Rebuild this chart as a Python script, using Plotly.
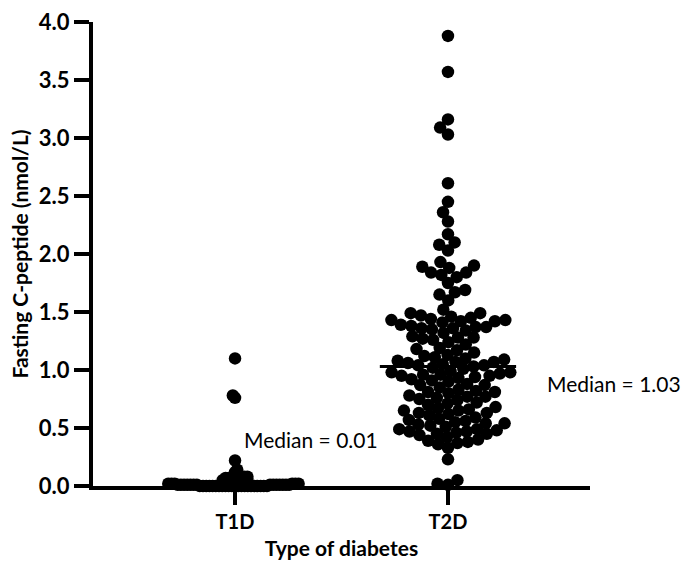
import numpy as np
import plotly.graph_objects as go

categories = ["T1D", "T2D"]
medians = [0.01, 1.03]
median_labels = ["Median = 0.01", "Median = 1.03"]

t1d_values = [1.10, 0.78, 0.76, 0.22, 0.14, 0.12, 0.10,
              0.09, 0.08, 0.08, 0.07, 0.07, 0.07, 0.06, 0.06, 0.06,
              0.05, 0.05, 0.05, 0.04, 0.04, 0.04, 0.03, 0.03, 0.03,
              0.02, 0.02, 0.02, 0.02, 0.02, 0.02,
              0.01, 0.01, 0.01, 0.01, 0.01, 0.01, 0.01, 0.01, 0.01, 0.01, 0.01, 0.01, 0.01, 0.01,
              0.00, 0.00, 0.00, 0.00, 0.00, 0.00, 0.00, 0.00, 0.00, 0.00, 0.00,
              0.00, 0.00, 0.00, 0.00, 0.00, 0.00, 0.00, 0.00, 0.00, 0.00, 0.00]

t2d_values = [3.88, 3.57, 3.16, 3.09, 3.03, 2.61, 2.45, 2.36, 2.28, 2.17, 2.10, 2.08, 2.03,
              1.93, 1.90, 1.89, 1.88, 1.84, 1.84, 1.82, 1.80, 1.75,
              1.69, 1.67, 1.65, 1.60, 1.52,
              1.49, 1.49, 1.47, 1.46, 1.45, 1.44, 1.43, 1.43, 1.42, 1.42, 1.41,
              1.39, 1.38, 1.37, 1.37, 1.36, 1.36, 1.35, 1.34, 1.32,
              1.29, 1.28, 1.28, 1.27, 1.26, 1.24, 1.22,
              1.19, 1.18, 1.17, 1.15, 1.13, 1.12, 1.11,
              1.10, 1.09, 1.08, 1.07, 1.07, 1.06, 1.05, 1.04, 1.04, 1.03, 1.02, 1.01,
              0.99, 0.98, 0.98, 0.97, 0.96, 0.96, 0.95, 0.95, 0.94, 0.93, 0.92, 0.91,
              0.90, 0.88, 0.87, 0.87, 0.85, 0.83, 0.82, 0.81, 0.81,
              0.80, 0.78, 0.77, 0.77, 0.76, 0.75, 0.74, 0.72, 0.71,
              0.70, 0.68, 0.67, 0.66, 0.65, 0.65, 0.63, 0.63, 0.62, 0.61,
              0.59, 0.58, 0.57, 0.56, 0.55, 0.54, 0.54, 0.53, 0.52, 0.51,
              0.49, 0.49, 0.48, 0.47, 0.47, 0.46, 0.45, 0.45, 0.44, 0.42,
              0.40, 0.39, 0.38, 0.37, 0.36, 0.33, 0.23, 0.05, 0.02, 0.01]

y_ticks = [0.0, 0.5, 1.0, 1.5, 2.0, 2.5, 3.0, 3.5, 4.0]

# layout geometry (pixels)
W, H = 683, 563
ML, MR, MT, MB = 93, 93, 22, 77
XR = [-0.667, 1.667]
YR = [0.0, 4.0]
px_x = (W - ML - MR) / (XR[1] - XR[0])
px_y = (H - MT - MB) / (YR[1] - YR[0])
MARKER = 12.5


def swarm(vals, d):
    """Beeswarm offsets (in x data units) so markers spaced d pixels apart."""
    ys = np.asarray(vals, dtype=float) * px_y
    order = np.argsort(ys, kind="stable")
    placed = []
    offs = np.zeros(len(ys))
    flip = 1
    for i in order:
        y = ys[i]
        cands = [0.0]
        for (px, py) in placed:
            dy = y - py
            if abs(dy) < d:
                dx = np.sqrt(d * d - dy * dy)
                cands += [px + dx, px - dx]
        cands.sort(key=lambda c: (round(abs(c), 3), -flip * c))
        chosen = cands[-1]
        for c in cands:
            if all((c - px) ** 2 + (y - py) ** 2 >= d * d - 1e-6 for px, py in placed):
                chosen = c
                break
        flip = -flip
        placed.append((chosen, y))
        offs[i] = chosen / px_x
    return offs


groups = [t1d_values, t2d_values]
spacing = [3.2, 10.5]

fig = go.Figure()
for k, vals in enumerate(groups):
    offs = swarm(vals, spacing[k])
    fig.add_trace(go.Scatter(
        x=k + offs, y=vals, mode="markers",
        marker=dict(color="black", size=MARKER, line=dict(width=0)),
        cliponaxis=False, showlegend=False, hoverinfo="y"))

for k, m in enumerate(medians):
    fig.add_trace(go.Scatter(
        x=[k - 0.32, k + 0.32], y=[m, m], mode="lines",
        line=dict(color="black", width=3), cliponaxis=False,
        showlegend=False, hoverinfo="skip"))

fig.add_annotation(x=0.035, y=0.40, text=median_labels[0], showarrow=False,
                   xanchor="left", yanchor="middle",
                   font=dict(family="Lato", size=21, color="black"))
fig.add_annotation(x=1.455, y=0.88, text=median_labels[1], showarrow=False,
                   xanchor="left", yanchor="middle",
                   font=dict(family="Lato", size=21, color="black"))

axis_common = dict(showgrid=False, zeroline=False, showline=True,
                   linecolor="black", linewidth=4, ticks="outside",
                   ticklen=15, tickwidth=4, tickcolor="black",
                   automargin=False)

fig.update_xaxes(range=XR, tickvals=[0, 1], ticktext=categories,
                 tickfont=dict(family="Lato", size=20, color="black", weight="bold"),
                 title=dict(text="<b>Type of diabetes</b>", standoff=10,
                            font=dict(family="Lato", size=21, color="black")),
                 **axis_common)
fig.update_yaxes(range=YR, tickvals=y_ticks,
                 ticktext=[f"{v:.1f}" for v in y_ticks],
                 tickfont=dict(family="Lato", size=22, color="black", weight="bold"),
                 title=dict(text="<b>Fasting C-peptide (nmol/L)</b>", standoff=5,
                            font=dict(family="Lato", size=21, color="black")),
                 **axis_common)

fig.update_layout(width=W, height=H,
                  margin=dict(l=ML, r=MR, t=MT, b=MB, pad=0),
                  plot_bgcolor="white", paper_bgcolor="white")

fig.write_html("out.html", config={"displayModeBar": False},
               post_script="document.body.style.margin='0';document.body.style.overflow='hidden';")
